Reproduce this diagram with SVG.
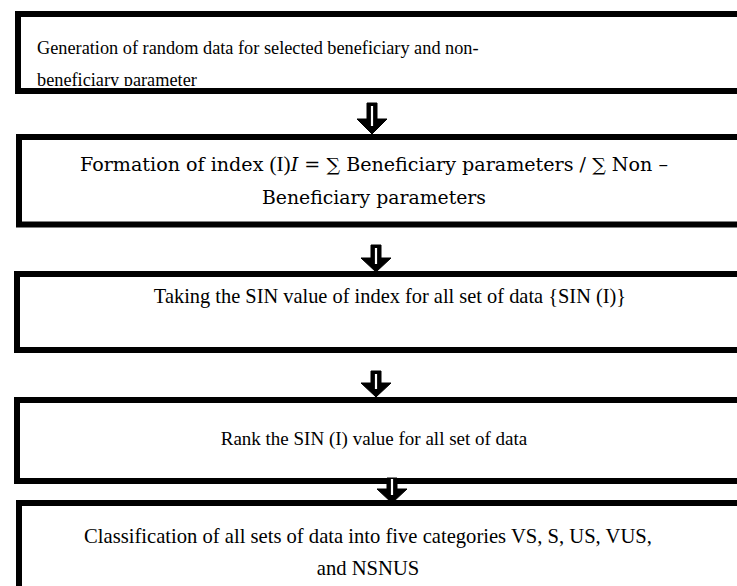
<svg xmlns="http://www.w3.org/2000/svg" width="737" height="586" viewBox="0 0 737 586">
<style>
.box{fill:#fff;stroke:#000;stroke-width:6}
.t{font-family:"Liberation Serif","Times New Roman",serif;fill:#000}
.m{font-family:"DejaVu Serif","Liberation Serif",serif;fill:#000}
.arr{fill:#000;stroke:#000;stroke-width:1;stroke-linejoin:miter}
.gap{stroke:#fff;stroke-width:2.2;fill:none}
</style>
<defs>
<clipPath id="c1"><rect x="0" y="0" width="737" height="86"/></clipPath>
</defs>
<g id="node1">
<rect class="box" x="18" y="14" width="760" height="77"/>
<g clip-path="url(#c1)">
<text class="t" x="37" y="54" font-size="18.3">Generation of random data for selected beneficiary and non-</text>
<text class="t" x="37" y="86" font-size="18.3">beneficiary parameter</text>
</g>
</g>
<g id="node2">
<rect class="box" x="19" y="137" width="760" height="87.5"/>
<text class="m" x="374" y="171" font-size="18" text-anchor="middle" textLength="588" lengthAdjust="spacingAndGlyphs">Formation of index <tspan class="t" font-size="20">(I)</tspan><tspan font-style="italic">I</tspan> = ∑ Beneficiary parameters / ∑ Non –</text>
<text class="m" x="374" y="204" font-size="18" text-anchor="middle" textLength="224" lengthAdjust="spacingAndGlyphs">Beneficiary parameters</text>
</g>
<g id="node3">
<rect class="box" x="17" y="274" width="760" height="76"/>
<text class="t" x="390" y="303" font-size="20.4" text-anchor="middle">Taking the SIN value of index for all set of data {SIN (I)}</text>
</g>
<g id="node4">
<rect class="box" x="17" y="400" width="760" height="81"/>
<text class="t" x="374" y="445" font-size="19" text-anchor="middle">Rank the SIN (I) value for all set of data</text>
</g>
<g id="node5">
<rect class="box" x="19" y="503" width="760" height="100"/>
<text class="t" x="368" y="543" font-size="20.6" text-anchor="middle">Classification of all sets of data into five categories VS, S, US, VUS,</text>
<text class="t" x="368" y="575" font-size="20.6" text-anchor="middle">and NSNUS</text>
</g>
<g id="connectors">
<path class="arr" d="M367,103 H377 V119 H387 L372,134 L357,119 H367 Z"/>
<path class="gap" d="M372,106 V126"/>
<path class="arr" d="M371,245 H381 V258 H391 L376,272 L361,258 H371 Z"/>
<path class="gap" d="M376,248 V264"/>
<path class="arr" d="M371,371 H381 V383 H391 L376,397 L361,383 H371 Z"/>
<path class="gap" d="M376,374 V389"/>
<path class="arr" d="M387,478 H397 V489 H407 L392,503 L377,489 H387 Z"/>
<path class="gap" d="M392,479 V495"/>
</g>
</svg>
